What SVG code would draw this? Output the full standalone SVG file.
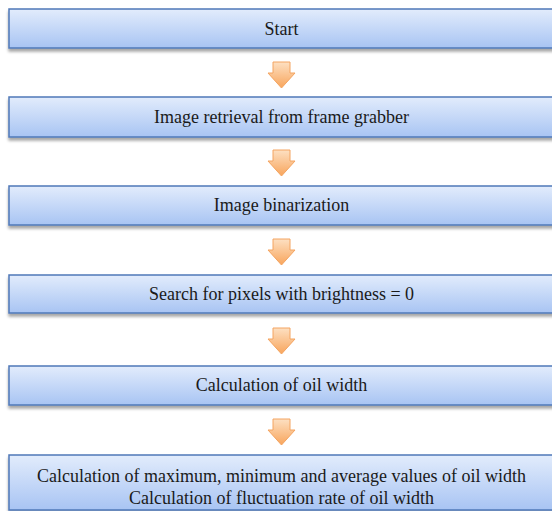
<svg xmlns="http://www.w3.org/2000/svg" width="552" height="511" viewBox="0 0 552 511">
<defs>
<linearGradient id="boxGrad" x1="0" y1="0" x2="0" y2="1">
<stop offset="0" stop-color="#e2ecfc"/>
<stop offset="1" stop-color="#a8c4f3"/>
</linearGradient>
<linearGradient id="arrGrad" x1="0" y1="0" x2="0" y2="1">
<stop offset="0" stop-color="#fde0c2"/>
<stop offset="1" stop-color="#f8a55c"/>
</linearGradient>
<filter id="shadow" x="-5%" y="-20%" width="110%" height="160%">
<feGaussianBlur in="SourceAlpha" stdDeviation="1.5"/>
<feOffset dx="0" dy="3" result="b"/>
<feComponentTransfer><feFuncA type="linear" slope="0.35"/></feComponentTransfer>
<feMerge><feMergeNode/><feMergeNode in="SourceGraphic"/></feMerge>
</filter>
<path id="arrow" d="M-8.5,0 H8.5 V11 H13.5 L0,26 L-13.5,11 H-8.5 Z"/>
</defs>
<style>
.box{fill:url(#boxGrad);stroke:#4f78b8;stroke-width:1.5;filter:url(#shadow)}
.lbl{font-family:"Liberation Serif","Times New Roman",serif;font-size:18px;fill:#1a1a1a;text-anchor:middle}
.arr{fill:url(#arrGrad);stroke:#f4a460;stroke-width:1}
</style>
<g id="connectors">
<use href="#arrow" class="arr" x="281.5" y="62"/>
<use href="#arrow" class="arr" x="281.5" y="150"/>
<use href="#arrow" class="arr" x="281.5" y="239"/>
<use href="#arrow" class="arr" x="281.5" y="328"/>
<use href="#arrow" class="arr" x="281.5" y="419"/>
</g>
<g id="n1"><rect class="box" x="9" y="9" width="545" height="39"/><text class="lbl" x="281.5" y="35">Start</text></g>
<g id="n2"><rect class="box" x="9" y="97" width="545" height="40"/><text class="lbl" x="281.5" y="123">Image retrieval from frame grabber</text></g>
<g id="n3"><rect class="box" x="9" y="186" width="545" height="39"/><text class="lbl" x="281.5" y="211">Image binarization</text></g>
<g id="n4"><rect class="box" x="9" y="275" width="545" height="38"/><text class="lbl" x="281.5" y="300">Search for pixels with brightness = 0</text></g>
<g id="n5"><rect class="box" x="9" y="366" width="545" height="39"/><text class="lbl" x="281.5" y="391">Calculation of oil width</text></g>
<g id="n6"><rect class="box" x="9" y="455" width="545" height="55"/><text class="lbl" x="281.5" y="482">Calculation of maximum, minimum and average values of oil width</text><text class="lbl" x="281.5" y="504">Calculation of fluctuation rate of oil width</text></g>
</svg>
